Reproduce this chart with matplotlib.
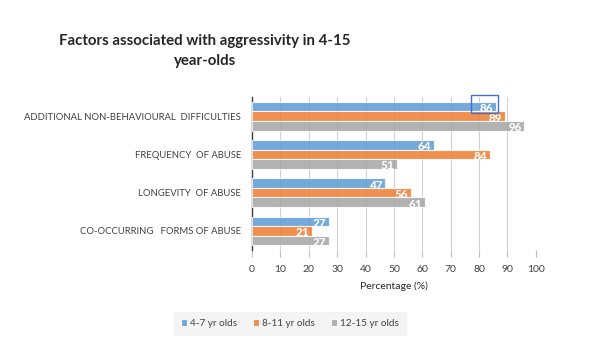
import matplotlib
matplotlib.use("Agg")
import matplotlib.pyplot as plt
import numpy as np
from matplotlib.patches import Rectangle

categories = [
    "ADDITIONAL NON-BEHAVIOURAL  DIFFICULTIES",
    "FREQUENCY  OF ABUSE",
    "LONGEVITY  OF ABUSE",
    "CO-OCCURRING   FORMS OF ABUSE",
]
series_names = ["4-7 yr olds", "8-11 yr olds", "12-15 yr olds"]
age_4_7 = [86, 64, 47, 27]
age_8_11 = [89, 84, 56, 21]
age_12_15 = [96, 51, 61, 27]
colors = ["#5b9bd5", "#ed7d31", "#a5a5a5"]

plt.rcParams["font.family"] = ["Lato", "DejaVu Sans"]

fig = plt.figure(figsize=(6, 3.42), dpi=100)
ax = fig.add_axes([0.42, 0.269, 0.473, 0.447])

n = len(categories)
centers = np.arange(n)[::-1].astype(float)
h = 0.25
offsets = [h, 0, -h]
all_series = [age_4_7, age_8_11, age_12_15]
for vals, off, c, name in zip(all_series, offsets, colors, series_names):
    bars = ax.barh(centers + off, vals, height=h, color=c, alpha=0.85,
                   edgecolor="white", linewidth=0.8, label=name, zorder=3)
    for b, v in zip(bars, vals):
        ax.text(v - 1.0, b.get_y() + b.get_height() / 2 - 0.05, str(v),
                ha="right", va="center", color="white", fontsize=8.5,
                fontweight="black", zorder=4)

# selection box around the first label, as in the source image
ax.add_patch(Rectangle((77.0, centers[0] + h - 0.17), 9.8, 0.47,
                       fill=False, edgecolor="#4472c4", linewidth=1.0,
                       zorder=5, clip_on=False))

ax.set_xlim(0, 100)
ax.set_ylim(-0.5, n - 0.5)
ax.set_xticks(np.arange(0, 101, 10))
ax.set_yticks(centers)
ax.set_yticklabels(categories, fontsize=6.8, color="#404040")
ax.tick_params(axis="y", length=0, pad=8)
ax.tick_params(axis="x", length=5, color="#bfbfbf", labelsize=7.5,
               labelcolor="#404040", pad=6, direction="out")
ax.grid(axis="x", color="#d0d0d0", linewidth=0.8, zorder=0)
for s in ["top", "right"]:
    ax.spines[s].set_visible(False)
ax.spines["bottom"].set_visible(False)
ax.spines["left"].set_color("#404040")
ax.spines["left"].set_linewidth(1.0)
ax.set_xlabel("Percentage (%)", fontsize=7.5, color="#262626", labelpad=5)

fig.text(0.342, 0.85, "Factors associated with aggressivity in 4-15\nyear-olds",
         ha="center", va="center", fontsize=10.8, fontweight="bold",
         color="#262626", linespacing=1.55)

leg = fig.legend(loc="center", bbox_to_anchor=(0.483, 0.054), ncol=3,
                 fontsize=7.2, frameon=True, handlelength=0.6, handleheight=0.6,
                 columnspacing=1.6, handletextpad=0.3, borderpad=0.7)
leg.get_frame().set_facecolor("#f2f2f2")
leg.get_frame().set_edgecolor("#f2f2f2")
leg.get_frame().set_boxstyle("square", pad=0)
for t in leg.get_texts():
    t.set_color("#404040")

fig.savefig("out.png", dpi=100)
